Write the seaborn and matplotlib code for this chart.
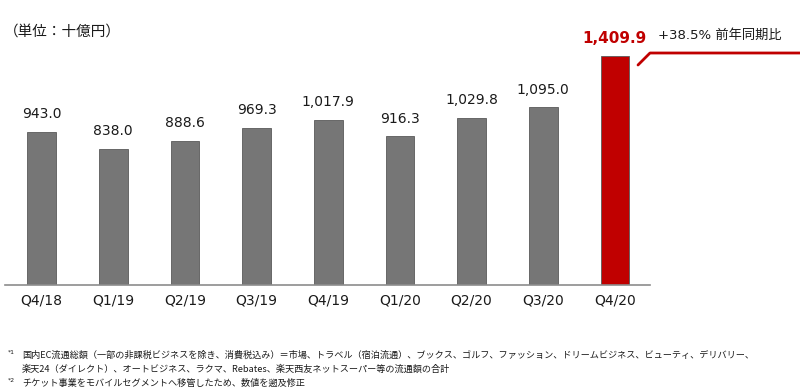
import matplotlib
matplotlib.use("Agg")
import matplotlib.pyplot as plt
import seaborn as sns
from matplotlib.lines import Line2D

# data
quarters = ["Q4/18", "Q1/19", "Q2/19", "Q3/19", "Q4/19", "Q1/20", "Q2/20", "Q3/20", "Q4/20"]
values = [943.0, 838.0, 888.6, 969.3, 1017.9, 916.3, 1029.8, 1095.0, 1409.9]
growth_label = "+38.5% 前年同期比"
unit_label = "（単位：十億円）"
footnotes = [
    ("*1", "国内EC流通総額（一部の非課税ビジネスを除き、消費税込み）＝市場、トラベル（宿泊流通）、ブックス、ゴルフ、ファッション、ドリームビジネス、ビューティ、デリバリー、"),
    ("", "楽天24（ダイレクト）、オートビジネス、ラクマ、Rebates、楽天西友ネットスーパー等の流通額の合計"),
    ("*2", "チケット事業をモバイルセグメントへ移管したため、数値を遡及修正"),
]

sns.set_theme(style="white")
plt.rcParams["font.family"] = ["DejaVu Sans", "Noto Sans CJK JP"]
cjk = ["Noto Sans CJK JP", "DejaVu Sans"]

GRAY = "#767676"
RED = "#C00000"
colors = [GRAY] * (len(values) - 1) + [RED]

fig = plt.figure(figsize=(8, 3.91), dpi=100)
ax = fig.add_axes([5 / 800, 106 / 391, 645 / 800, 243.5 / 391])

sns.barplot(x=quarters, y=values, palette=colors, hue=quarters, legend=False,
            width=0.4, ax=ax, saturation=1, edgecolor="#5a5a5a", linewidth=0.6)
ax.set_xlim(-0.51, 8.49)
ax.set_ylim(0, 1500)

for i, v in enumerate(values):
    last = i == len(values) - 1
    ax.text(i, v + (60 if last else 65), f"{v:,.1f}", ha="center", va="bottom",
            fontsize=11 if last else 10, fontweight="bold" if last else "normal",
            color=RED if last else "#1a1a1a", clip_on=False)

for s in ["top", "right", "left"]:
    ax.spines[s].set_visible(False)
ax.spines["bottom"].set_color("#8c8c8c")
ax.spines["bottom"].set_linewidth(1.2)
ax.set_yticks([])
ax.tick_params(axis="x", length=0, pad=6, labelsize=10, labelcolor="#1a1a1a")
ax.set_xlabel("")
ax.set_ylabel("")

# growth annotation line
fig.add_artist(Line2D([638 / 800, 650 / 800, 1.0], [1 - 65 / 391, 1 - 53 / 391, 1 - 53 / 391],
                      color=RED, linewidth=2, transform=fig.transFigure))
fig.text(658 / 800, 1 - 35 / 391, growth_label, fontsize=9.5, color="#1a1a1a", va="center")
fig.text(4 / 800, 1 - 32 / 391, unit_label, fontsize=10.5, color="#1a1a1a", va="center",
         family=cjk)

y = 1 - 355 / 391
for mark, line in footnotes:
    if mark:
        fig.text(8 / 800, y + 3 / 391, mark, fontsize=4.5, color="#1a1a1a", va="center")
    fig.text(22 / 800, y, line, fontsize=6.6, color="#1a1a1a", va="center", family=cjk)
    y -= 14 / 391

fig.savefig("out.png", dpi=100)
